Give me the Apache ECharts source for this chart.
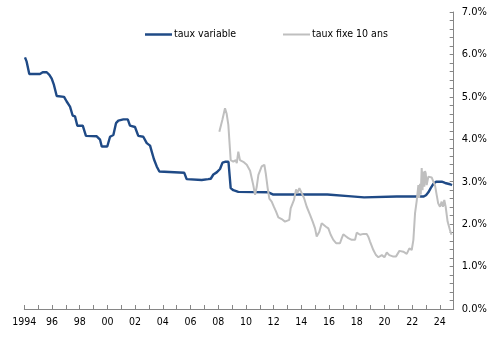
<!DOCTYPE html>
<html>
<head>
<meta charset="utf-8">
<script src="https://cdn.jsdelivr.net/npm/echarts@6/dist/echarts.min.js"></script>
<style>html,body{margin:0;padding:0;background:#fff}#c{width:491px;height:340px}</style>
</head>
<body>
<div id="c"></div>
<script>
// Series names
const seriesNames = ['taux variable', 'taux fixe 10 ans'];

// taux variable: time (decimal year) and value (%)
const variableYears = [1994.05,1994.17,1994.36,1995.13,1995.33,1995.62,1995.81,1995.98,1996.14,1996.34,1996.87,1997.06,1997.30,1997.49,1997.66,1997.83,1998.22,1998.45,1999.23,1999.47,1999.59,1999.99,2000.19,2000.43,2000.62,2000.79,2001.15,2001.47,2001.63,2001.99,2002.23,2002.59,2002.84,2003.08,2003.20,2003.36,2003.56,2003.75,2003.85,2005.55,2005.72,2006.81,2006.92,2007.28,2007.46,2007.65,2007.89,2008.13,2008.31,2008.49,2008.74,2008.90,2009.09,2009.45,2011.62,2011.94,2015.88,2016.02,2017.39,2017.52,2018.53,2018.67,2020.89,2021.00,2021.18,2022.81,2023.00,2023.17,2023.34,2023.53,2023.73,2024.14,2024.38,2024.74,2024.88];
const variableValues = [5.93,5.83,5.54,5.54,5.58,5.58,5.52,5.43,5.28,5.02,5.00,4.89,4.77,4.56,4.54,4.32,4.32,4.08,4.07,3.99,3.83,3.83,4.06,4.10,4.38,4.44,4.47,4.47,4.32,4.29,4.08,4.06,3.91,3.85,3.71,3.53,3.36,3.24,3.21,3.21,3.06,3.04,3.02,3.06,3.07,3.17,3.22,3.30,3.45,3.47,3.47,2.85,2.80,2.76,2.75,2.70,2.70,2.67,2.66,2.63,2.63,2.65,2.65,2.67,2.65,2.65,2.68,2.75,2.85,2.95,3.00,3.00,2.97,2.94,2.92];

// taux fixe 10 ans: time (decimal year) and value (%)
const fixeYears = [2008.08,2008.30,2008.49,2008.61,2008.73,2008.85,2008.90,2009.09,2009.26,2009.34,2009.45,2009.57,2009.81,2010.06,2010.30,2010.42,2010.53,2010.66,2010.78,2010.90,2011.14,2011.33,2011.43,2011.57,2011.69,2011.86,2012.03,2012.17,2012.34,2012.58,2012.82,2012.94,2013.13,2013.23,2013.35,2013.47,2013.62,2013.71,2013.86,2014.03,2014.20,2014.39,2014.63,2014.82,2014.99,2015.11,2015.30,2015.47,2015.59,2015.78,2015.95,2016.12,2016.31,2016.51,2016.79,2016.92,2017.03,2017.23,2017.39,2017.64,2017.88,2018.00,2018.24,2018.48,2018.72,2018.84,2018.96,2019.20,2019.39,2019.56,2019.81,2020.00,2020.17,2020.35,2020.60,2020.84,2021.08,2021.36,2021.61,2021.80,2021.97,2022.09,2022.21,2022.33,2022.45,2022.50,2022.57,2022.62,2022.69,2022.75,2022.81,2022.88,2022.93,2022.98,2023.05,2023.17,2023.29,2023.41,2023.53,2023.65,2023.77,2023.88,2024.01,2024.13,2024.22,2024.32,2024.42,2024.56,2024.73,2024.84];
const fixeValues = [4.18,4.46,4.73,4.60,4.34,4.32,3.51,3.47,3.51,3.44,3.71,3.51,3.47,3.40,3.26,3.08,2.92,2.69,2.88,3.16,3.36,3.40,3.20,2.85,2.60,2.53,2.40,2.30,2.16,2.12,2.06,2.02,2.10,2.37,2.34,2.57,2.82,2.73,2.85,2.73,2.61,2.41,2.22,2.06,1.90,1.71,1.82,2.02,2.06,1.94,1.90,1.75,1.63,1.55,1.55,1.67,1.76,1.71,1.67,1.63,1.63,1.80,1.75,1.77,1.77,1.70,1.59,1.39,1.27,1.22,1.27,1.22,1.33,1.27,1.24,1.24,1.37,1.35,1.30,1.43,1.39,1.63,2.26,2.55,2.92,2.62,2.95,2.70,3.32,2.80,3.24,2.88,3.25,3.20,2.92,3.12,3.16,3.10,3.00,2.92,2.69,2.49,2.41,2.53,2.41,2.57,2.41,2.06,1.86,1.75];

// Axis ranges / ticks
const xMin = 1994, xMax = 2025, xInterval = 1;
const yMin = 0, yMax = 7, yInterval = 1;

const pair = (xs, ys) => xs.map((x, i) => [x, ys[i]]);
const FONT = '"DejaVu Sans Condensed", "DejaVu Sans", sans-serif';
const BLUE = '#1f4a86', GREY = '#bfbfbf';

const chart = echarts.init(document.getElementById('c'), null, {renderer: 'canvas'});
chart.setOption({
  animation: false,
  backgroundColor: '#ffffff',
  grid: {left: 24.3, right: 37.3, top: 12, bottom: 31, containLabel: false},
  legend: [
    {data: [{name: seriesNames[0], icon: 'rect', itemStyle: {color: BLUE}}],
     left: 145, top: 29, padding: 0, itemWidth: 27, itemHeight: 2.5, itemGap: 0,
     textStyle: {fontFamily: FONT, fontSize: 10.5, color: '#000', padding: [0,0,0,-3]}},
    {data: [{name: seriesNames[1], icon: 'rect', itemStyle: {color: GREY}}],
     left: 283, top: 29, padding: 0, itemWidth: 27, itemHeight: 2, itemGap: 0,
     textStyle: {fontFamily: FONT, fontSize: 10.5, color: '#000', padding: [0,0,0,-3]}}
  ],
  xAxis: {
    type: 'value', min: xMin, max: xMax, interval: xInterval,
    axisLine: {show: true, onZero: false, lineStyle: {color: '#868686', width: 1}},
    axisTick: {show: true, inside: true, length: 4, lineStyle: {color: '#868686'}},
    splitLine: {show: false},
    axisLabel: {
      fontFamily: FONT, fontSize: 10.5, color: '#000', margin: 8, hideOverlap: false,
      showMinLabel: true, showMaxLabel: true,
      formatter: v => {
        const y = Math.round(v);
        if (y % 2 !== 0) return '';
        return y === xMin ? String(y) : String(y).slice(2);
      }
    }
  },
  yAxis: {
    type: 'value', position: 'right', min: yMin, max: yMax, interval: yInterval,
    axisLine: {show: true, lineStyle: {color: '#868686', width: 1}},
    axisTick: {show: true, inside: true, length: 4, lineStyle: {color: '#868686'}},
    minorTick: {show: true, splitNumber: 5, length: 4, lineStyle: {color: '#868686'}},
    splitLine: {show: false},
    axisLabel: {fontFamily: FONT, fontSize: 11, color: '#000', margin: 8,
      formatter: v => v.toFixed(1) + '%'}
  },
  series: [
    {name: seriesNames[0], type: 'line', data: pair(variableYears, variableValues),
     symbol: 'none', smooth: false, color: BLUE,
     lineStyle: {color: BLUE, width: 2.4}, z: 2},
    {name: seriesNames[1], type: 'line', data: pair(fixeYears, fixeValues),
     symbol: 'none', smooth: false, color: GREY,
     lineStyle: {color: GREY, width: 2}, z: 3}
  ]
});
</script>
</body>
</html>
